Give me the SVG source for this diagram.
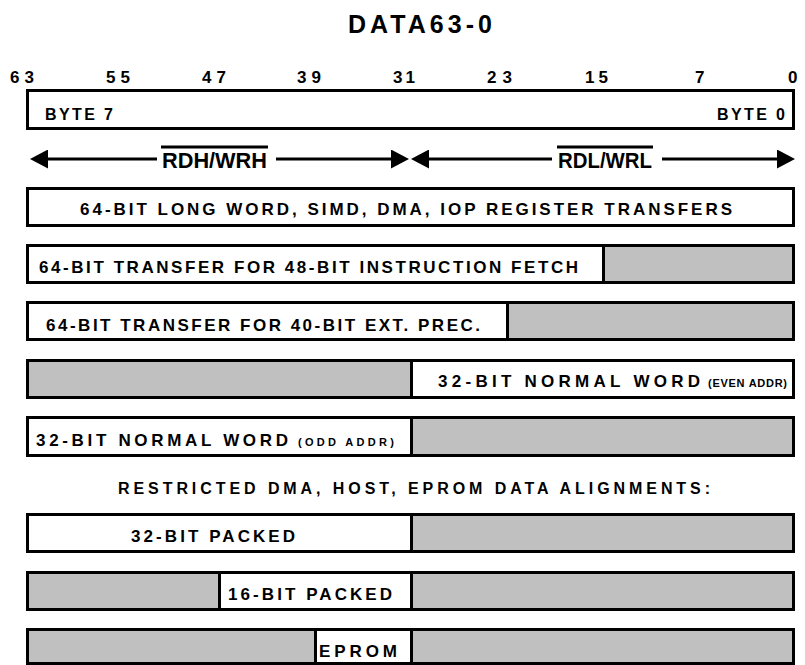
<svg xmlns="http://www.w3.org/2000/svg" width="805" height="665" viewBox="0 0 805 665">
<style>
text{font-family:"Liberation Sans","DejaVu Sans",Arial,sans-serif;font-weight:bold;fill:#000}
.box{fill:#fff;stroke:#000;stroke-width:3}
.gray{fill:#c0c0c0;stroke:#000;stroke-width:3}
.num{font-size:17px}
.lbl{font-size:17px}
.sm{font-size:11px}
.cond{font-size:17px}
.conn{stroke:#000;stroke-width:3;fill:none}
</style>
<defs>
<marker id="ah" viewBox="0 0 18 19" refX="0" refY="9.5" markerWidth="18" markerHeight="19" markerUnits="userSpaceOnUse" orient="auto-start-reverse">
<path d="M0,0 L18,9.5 L0,19 z" fill="#000"/>
</marker>
</defs>
<rect width="805" height="665" fill="#fff"/>

<g id="title">
<text x="348" y="33" style="font-size:25px" textLength="144" lengthAdjust="spacing">DATA63-0</text>
</g>

<g id="bit-numbers" class="num">
<text class="num" x="10" y="83" textLength="24" lengthAdjust="spacing">63</text>
<text class="num" x="106" y="83" textLength="24" lengthAdjust="spacing">55</text>
<text class="num" x="202" y="83" textLength="24" lengthAdjust="spacing">47</text>
<text class="num" x="297" y="83" textLength="24" lengthAdjust="spacing">39</text>
<text class="num" x="393" y="83" textLength="22" lengthAdjust="spacing">31</text>
<text class="num" x="487" y="83" textLength="25" lengthAdjust="spacing">23</text>
<text class="num" x="585" y="83" textLength="23" lengthAdjust="spacing">15</text>
<text class="num" x="695" y="83">7</text>
<text class="num" x="788" y="83">0</text>
</g>

<g id="bytes">
<rect class="box" x="27.5" y="90.5" width="766" height="38"/>
<text x="45" y="120" style="font-size:16px" textLength="68" lengthAdjust="spacing">BYTE 7</text>
<text x="717" y="120" style="font-size:16px" textLength="68" lengthAdjust="spacing">BYTE 0</text>
</g>

<g id="connectors">
<line class="conn" x1="48" y1="159" x2="157" y2="159" marker-start="url(#ah)"/>
<line class="conn" x1="276" y1="159" x2="391" y2="159" marker-end="url(#ah)"/>
<line class="conn" x1="429" y1="159" x2="552" y2="159" marker-start="url(#ah)"/>
<line class="conn" x1="662" y1="159" x2="777" y2="159" marker-end="url(#ah)"/>
</g>

<g id="rdh-wrh">
<rect x="161" y="145.5" width="107" height="3" fill="#000"/>
<text x="162" y="168" style="font-size:22px" textLength="105" lengthAdjust="spacingAndGlyphs">RDH/WRH</text>
</g>
<g id="rdl-wrl">
<rect x="557" y="145.5" width="96" height="3" fill="#000"/>
<text x="558" y="168" style="font-size:22px" textLength="94" lengthAdjust="spacingAndGlyphs">RDL/WRL</text>
</g>

<g id="row-64-long">
<rect class="box" x="27.5" y="188.5" width="766" height="37"/>
<text class="lbl" x="80" y="215" textLength="652" lengthAdjust="spacing">64-BIT LONG WORD, SIMD, DMA, IOP REGISTER TRANSFERS</text>
</g>

<g id="row-48-instr">
<rect class="box" x="27.5" y="245.5" width="766" height="37"/>
<rect class="gray" x="603.5" y="245.5" width="190" height="37"/>
<text class="lbl" x="39" y="273" textLength="539" lengthAdjust="spacing">64-BIT TRANSFER FOR 48-BIT INSTRUCTION FETCH</text>
</g>

<g id="row-40-ext">
<rect class="box" x="27.5" y="302.5" width="766" height="37"/>
<rect class="gray" x="507.5" y="302.5" width="286" height="37"/>
<text class="lbl" x="46" y="331" textLength="434" lengthAdjust="spacing">64-BIT TRANSFER FOR 40-BIT EXT. PREC.</text>
</g>

<g id="row-32-even">
<rect class="box" x="27.5" y="360.5" width="766" height="37"/>
<rect class="gray" x="27.5" y="360.5" width="384" height="37"/>
<text class="lbl" x="438" y="387" textLength="262" lengthAdjust="spacing">32-BIT NORMAL WORD</text>
<text class="sm" x="708" y="387" textLength="79" lengthAdjust="spacing">(EVEN ADDR)</text>
</g>

<g id="row-32-odd">
<rect class="box" x="27.5" y="417.5" width="766" height="38"/>
<rect class="gray" x="411.5" y="417.5" width="382" height="38"/>
<text class="lbl" x="36" y="446" textLength="252" lengthAdjust="spacing">32-BIT NORMAL WORD</text>
<text class="sm" x="298" y="446" textLength="96" lengthAdjust="spacing">(ODD ADDR)</text>
</g>

<g id="restricted-heading">
<text x="118" y="494" style="font-size:16px" textLength="592" lengthAdjust="spacing">RESTRICTED DMA, HOST, EPROM DATA ALIGNMENTS:</text>
</g>

<g id="row-32-packed">
<rect class="box" x="27.5" y="514.5" width="766" height="37"/>
<rect class="gray" x="411.5" y="514.5" width="382" height="37"/>
<text class="cond" x="131" y="542" textLength="164" lengthAdjust="spacing">32-BIT PACKED</text>
</g>

<g id="row-16-packed">
<rect class="box" x="27.5" y="572.5" width="766" height="37"/>
<rect class="gray" x="27.5" y="572.5" width="192" height="37"/>
<rect class="gray" x="411.5" y="572.5" width="382" height="37"/>
<text class="cond" x="228" y="600" textLength="164" lengthAdjust="spacing">16-BIT PACKED</text>
</g>

<g id="row-eprom">
<rect class="box" x="27.5" y="629.5" width="766" height="34"/>
<rect class="gray" x="27.5" y="629.5" width="288" height="34"/>
<rect class="gray" x="411.5" y="629.5" width="382" height="34"/>
<text class="cond" x="319" y="657" textLength="78" lengthAdjust="spacing">EPROM</text>
</g>
</svg>
